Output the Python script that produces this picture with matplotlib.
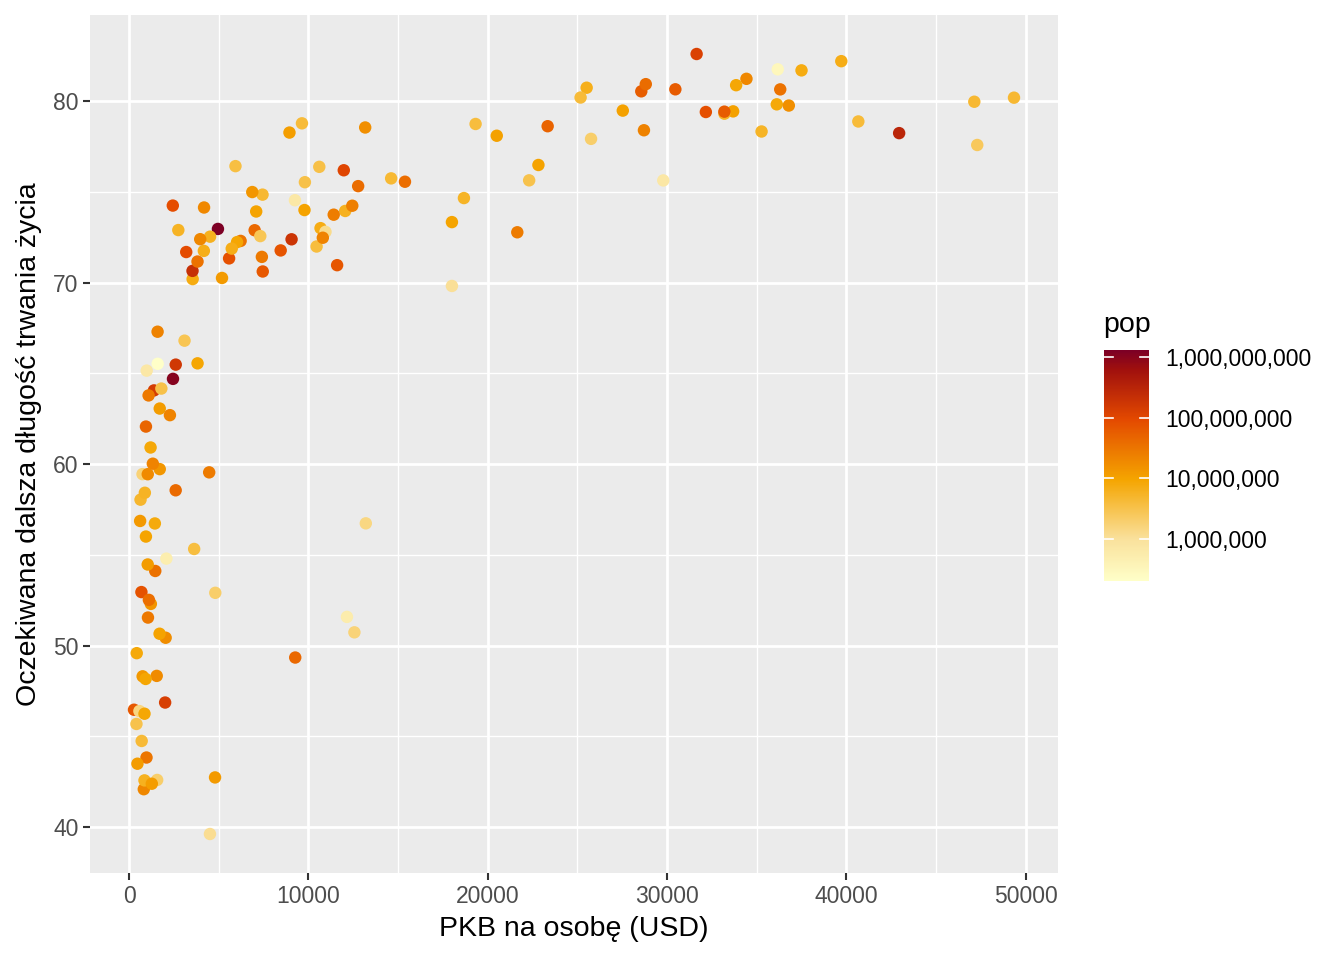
import matplotlib
matplotlib.use("Agg")
import matplotlib.pyplot as plt
import numpy as np
from matplotlib.colors import LinearSegmentedColormap, Normalize
from matplotlib.ticker import MultipleLocator

plt.rcParams["font.family"] = ["Liberation Sans", "DejaVu Sans"]

# gapminder 2007: GDP per capita, life expectancy, population
gdp = [974.58, 5937.03, 6223.37, 4797.23, 12779.38, 34435.37, 36126.49, 29796.05, 1391.25, 33692.61,
       1441.28, 3822.14, 7446.30, 12569.85, 9065.80, 10680.79, 1217.03, 430.07, 1713.78, 2042.10,
       36319.24, 706.02, 1704.06, 13171.64, 4959.11, 7006.58, 986.15, 277.55, 3632.56, 9645.06,
       1544.75, 14619.22, 8948.10, 22833.31, 35278.42, 2082.48, 6025.37, 6873.26, 5581.18, 5728.35,
       12154.09, 641.37, 690.81, 33207.08, 30470.02, 13206.48, 752.75, 32170.37, 1327.61, 27538.41,
       5186.05, 942.65, 579.23, 1201.64, 3548.33, 39724.98, 18008.94, 36180.79, 2452.21, 3540.65,
       11605.71, 4471.06, 40675.00, 25523.28, 28569.72, 7320.88, 31656.07, 4519.46, 1463.25, 1593.07,
       23348.14, 47306.99, 10461.06, 1569.33, 414.51, 12057.50, 1044.77, 759.35, 12451.66, 1042.58,
       1803.15, 10956.99, 11977.57, 3095.77, 9253.90, 3820.18, 823.69, 944.00, 4811.06, 1091.36,
       36797.93, 25185.01, 2749.32, 619.68, 2013.98, 49357.19, 22316.19, 2605.95, 9809.19, 4172.84,
       7408.91, 3190.48, 15389.92, 20509.65, 19328.71, 10808.48, 863.09, 1598.44, 21654.83,
       1712.47, 9786.53, 862.54, 47143.18, 18678.31, 25768.26, 926.14, 9269.66, 28821.06, 3970.10,
       2602.39, 4513.48, 33859.75, 37506.42, 4184.55, 28718.28, 1107.48, 7458.40, 882.97, 18008.51,
       7092.92, 8458.28, 1056.38, 33203.26, 42951.65, 10611.46, 11415.81, 2441.58, 2280.77,
       1271.21, 469.71]
life_exp = [43.828, 76.423, 72.301, 42.731, 75.320, 81.235, 79.829, 75.635, 64.062, 79.441,
            56.728, 65.554, 74.852, 50.728, 72.390, 73.005, 52.295, 49.580, 59.723, 50.430,
            80.653, 44.741, 50.651, 78.553, 72.961, 72.889, 65.152, 46.462, 55.322, 78.782,
            48.328, 75.748, 78.273, 76.486, 78.332, 54.791, 72.235, 74.994, 71.338, 71.878,
            51.579, 58.040, 52.947, 79.313, 80.657, 56.735, 59.448, 79.406, 60.022, 79.483,
            70.259, 56.007, 46.388, 60.916, 70.198, 82.208, 73.338, 81.757, 64.698, 70.650,
            70.964, 59.545, 78.885, 80.745, 80.546, 72.567, 82.603, 72.535, 54.110, 67.297,
            78.623, 77.588, 71.993, 42.592, 45.678, 73.952, 59.443, 48.303, 74.241, 54.467,
            64.164, 72.801, 76.195, 66.803, 74.543, 71.164, 42.082, 62.069, 52.906, 63.785,
            79.762, 80.204, 72.899, 56.867, 46.859, 80.196, 75.640, 65.483, 75.537, 71.752,
            71.421, 71.688, 75.563, 78.098, 78.746, 72.476, 46.242, 65.528, 72.777,
            63.062, 74.002, 42.568, 79.972, 74.663, 77.926, 48.159, 49.339, 80.941, 72.396,
            58.556, 39.613, 80.884, 81.701, 74.143, 78.400, 52.517, 70.616, 58.420, 69.819,
            73.923, 71.777, 51.542, 79.425, 78.242, 76.384, 73.747, 74.249, 62.698,
            42.384, 43.487]
pop = [31889923, 3600523, 33333216, 12420476, 40301927, 20434176, 8199783, 708573, 150448339, 10392226,
       8078314, 9119152, 4552198, 1639131, 190010647, 7322858, 14326203, 8390505, 14131858, 17696293,
       33390141, 4369038, 10238807, 16284741, 1318683096, 44227550, 710960, 64606759, 3800610, 4133884,
       18013409, 4493312, 11416987, 10228744, 5468120, 496374, 9319622, 13755680, 80264543, 6939688,
       551201, 4906585, 76511887, 5238460, 61083916, 1454867, 1688359, 82400996, 22873338, 10706290,
       12572928, 9947814, 1472041, 8502814, 7483763, 6980412, 9956108, 301931, 1110396331, 223547000,
       69453570, 27499638, 4109086, 6426679, 58147733, 2780132, 127467972, 6053193, 35610177, 23301725,
       49044790, 2505559, 3921278, 2012649, 3193942, 6036914, 19167654, 13327079, 24821286, 12031795,
       3270065, 1250882, 108700891, 2874127, 684736, 33757175, 19951656, 47761980, 2055080, 28901790,
       16570613, 4115771, 5675356, 12894865, 135031164, 4627926, 3204897, 169270617, 3242173, 6667147,
       28674757, 91077287, 38518241, 10642836, 3942491, 22276056, 8860588, 199579, 27601038,
       12267493, 10150265, 6144562, 4553009, 5447502, 2009245, 9118773, 43997828, 40448191, 20378239,
       42292929, 1133066, 9031088, 7554661, 19314747, 23174294, 38139640, 65068149, 5701579, 1056608,
       10276158, 71158647, 29170398, 60776238, 301139947, 3447496, 26084662, 85262356, 22211743,
       11746035, 12311143]

legend_ticks = [1e6, 1e7, 1e8, 1e9]

gdp = np.array(gdp)
life_exp = np.array(life_exp)
lpop = np.log10(np.array(pop))

cmap = LinearSegmentedColormap.from_list("ylorrd_hcl", [
    (0.00, "#FFFFC8"),
    (0.18, "#FAE19C"),
    (0.44, "#F5A500"),
    (0.70, "#E44A00"),
    (0.92, "#A0100E"),
    (1.00, "#7D0025"),
])
norm = Normalize(vmin=lpop.min(), vmax=lpop.max())

fig = plt.figure(figsize=(13.44, 9.6), dpi=100)
ax = fig.add_axes([90 / 1344, 87 / 960, 968 / 1344, 858 / 960])
ax.set_facecolor("#EBEBEB")
for s in ax.spines.values():
    s.set_visible(False)

ax.scatter(gdp, life_exp, c=lpop, cmap=cmap, norm=norm, s=80, linewidths=0, zorder=3)

xr = gdp.max() - gdp.min()
yr = life_exp.max() - life_exp.min()
ax.set_xlim(gdp.min() - 0.05 * xr, gdp.max() + 0.05 * xr)
ax.set_ylim(life_exp.min() - 0.05 * yr, life_exp.max() + 0.05 * yr)

ax.xaxis.set_major_locator(MultipleLocator(10000))
ax.xaxis.set_minor_locator(MultipleLocator(5000))
ax.yaxis.set_major_locator(MultipleLocator(10))
ax.yaxis.set_minor_locator(MultipleLocator(5))
ax.grid(which="major", color="white", linewidth=2.0, zorder=1)
ax.grid(which="minor", color="white", linewidth=1.0, zorder=1)
ax.set_axisbelow(True)
ax.tick_params(which="major", length=5.3, width=1.5, color="#333333", labelcolor="#4D4D4D",
               labelsize=16.5, pad=3)
ax.tick_params(which="minor", length=0)

ax.set_xlabel("PKB na osobę (USD)", fontsize=20.5, color="black", labelpad=6)
ax.set_ylabel("Oczekiwana dalsza długość trwania życia", fontsize=20.5, color="black", labelpad=8)

# colour legend
cax = fig.add_axes([1104 / 1344, (960 - 581) / 960, 45 / 1344, 231 / 960])
grad = np.linspace(norm.vmin, norm.vmax, 300).reshape(-1, 1)
cax.imshow(grad, aspect="auto", cmap=cmap, norm=norm, origin="lower",
           extent=[0, 1, norm.vmin, norm.vmax])
cax.set_xlim(0, 1)
cax.set_ylim(norm.vmin, norm.vmax)
for s in cax.spines.values():
    s.set_visible(False)
cax.set_xticks([])
lt = np.log10(legend_ticks)
cax.set_yticks(lt)
cax.yaxis.tick_right()
cax.set_yticklabels([f"{int(v):,}" for v in legend_ticks])
cax.tick_params(axis="y", length=0, labelsize=16.5, labelcolor="black", pad=12)
for v in lt:
    cax.plot([0, 0.2], [v, v], color="white", linewidth=1.2)
    cax.plot([0.8, 1], [v, v], color="white", linewidth=1.2)
fig.text(1103 / 1344, 1 - 325 / 960, "pop", fontsize=20.5, va="center", ha="left")

fig.savefig("out.png", dpi=100)
